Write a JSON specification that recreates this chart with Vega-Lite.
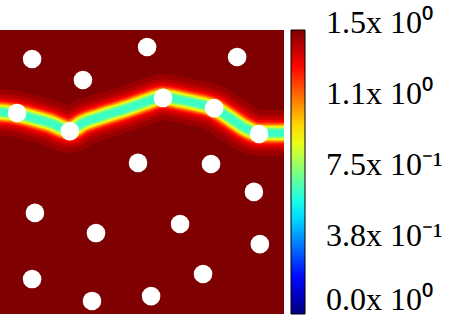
{
  "$schema": "https://vega.github.io/schema/vega-lite/v6.json",
  "autosize": "none",
  "width": 284,
  "height": 284,
  "padding": {"left": 0, "top": 30, "right": 165, "bottom": 4},
  "background": "white",
  "view": {"fill": "#7f0000", "stroke": null},
  "config": {"legend": {"padding": 0}},
  "datasets": {
    "band": [
      {"x": -0.04, "y": 0.713},
      {"x": 0.0, "y": 0.711},
      {"x": 0.06, "y": 0.704},
      {"x": 0.116, "y": 0.69},
      {"x": 0.176, "y": 0.673},
      {"x": 0.246, "y": 0.648},
      {"x": 0.292, "y": 0.673},
      {"x": 0.352, "y": 0.694},
      {"x": 0.451, "y": 0.725},
      {"x": 0.511, "y": 0.746},
      {"x": 0.574, "y": 0.764},
      {"x": 0.634, "y": 0.754},
      {"x": 0.687, "y": 0.743},
      {"x": 0.754, "y": 0.725},
      {"x": 0.81, "y": 0.69},
      {"x": 0.863, "y": 0.655},
      {"x": 0.912, "y": 0.637},
      {"x": 1.0, "y": 0.637},
      {"x": 1.04, "y": 0.637}
    ],
    "holes": [
      {"x": 0.113, "y": 0.898},
      {"x": 0.518, "y": 0.94},
      {"x": 0.835, "y": 0.905},
      {"x": 0.292, "y": 0.824},
      {"x": 0.06, "y": 0.708},
      {"x": 0.246, "y": 0.644},
      {"x": 0.574, "y": 0.761},
      {"x": 0.754, "y": 0.725},
      {"x": 0.912, "y": 0.634},
      {"x": 0.486, "y": 0.532},
      {"x": 0.743, "y": 0.528},
      {"x": 0.894, "y": 0.43},
      {"x": 0.123, "y": 0.356},
      {"x": 0.338, "y": 0.285},
      {"x": 0.634, "y": 0.317},
      {"x": 0.915, "y": 0.246},
      {"x": 0.113, "y": 0.123},
      {"x": 0.715, "y": 0.141},
      {"x": 0.324, "y": 0.046},
      {"x": 0.532, "y": 0.063}
    ]
  },
  "encoding": {
    "x": {"field": "x", "type": "quantitative", "axis": null, "scale": {"domain": [0, 1], "nice": false, "zero": false}},
    "y": {"field": "y", "type": "quantitative", "axis": null, "scale": {"domain": [0, 1], "nice": false, "zero": false}}
  },
  "layer": [
    {"data": {"name": "band"}, "mark": {"type": "line", "strokeWidth": 46, "interpolate": "monotone", "clip": true},
     "encoding": {"color": {"datum": 1.46, "type": "quantitative",
       "scale": {"domain": [0, 0.1875, 0.5625, 0.9375, 1.3125, 1.5], "range": ["#00007f", "#0000ff", "#00ffff", "#ffff00", "#ff0000", "#7f0000"], "interpolate": "rgb"},
       "legend": {"title": null, "orient": "right", "offset": 7, "direction": "vertical", "gradientLength": 284, "gradientThickness": 14,
         "gradientStrokeColor": "black", "gradientStrokeWidth": 1,
         "values": [0, 0.375, 0.75, 1.125, 1.5],
         "labelExpr": "datum.value < 0.1 ? '0.0x 10⁰' : datum.value < 0.5 ? '3.8x 10⁻¹' : datum.value < 1 ? '7.5x 10⁻¹' : datum.value < 1.3 ? '1.1x 10⁰' : '1.5x 10⁰'",
         "labelFont": "Liberation Serif", "labelFontSize": 32, "labelColor": "black", "labelOffset": 21, "labelOverlap": false,
         "labelBaseline": "alphabetic",
         "encode": {"labels": {"update": {"baseline": {"value": "alphabetic"}, "dy": {"signal": "datum.value < 0.1 ? -4 : 3"}}}}}}}},
    {"data": {"name": "band"}, "mark": {"type": "line", "strokeWidth": 36, "interpolate": "monotone", "clip": true}, "encoding": {"color": {"datum": 1.42, "type": "quantitative"}}},
    {"data": {"name": "band"}, "mark": {"type": "line", "strokeWidth": 30, "interpolate": "monotone", "clip": true}, "encoding": {"color": {"datum": 1.38, "type": "quantitative"}}},
    {"data": {"name": "band"}, "mark": {"type": "line", "strokeWidth": 26, "interpolate": "monotone", "clip": true}, "encoding": {"color": {"datum": 1.34, "type": "quantitative"}}},
    {"data": {"name": "band"}, "mark": {"type": "line", "strokeWidth": 23, "interpolate": "monotone", "clip": true}, "encoding": {"color": {"datum": 1.3, "type": "quantitative"}}},
    {"data": {"name": "band"}, "mark": {"type": "line", "strokeWidth": 21, "interpolate": "monotone", "clip": true}, "encoding": {"color": {"datum": 1.24, "type": "quantitative"}}},
    {"data": {"name": "band"}, "mark": {"type": "line", "strokeWidth": 19, "interpolate": "monotone", "clip": true}, "encoding": {"color": {"datum": 1.17, "type": "quantitative"}}},
    {"data": {"name": "band"}, "mark": {"type": "line", "strokeWidth": 17, "interpolate": "monotone", "clip": true}, "encoding": {"color": {"datum": 1.1, "type": "quantitative"}}},
    {"data": {"name": "band"}, "mark": {"type": "line", "strokeWidth": 15.5, "interpolate": "monotone", "clip": true}, "encoding": {"color": {"datum": 1.03, "type": "quantitative"}}},
    {"data": {"name": "band"}, "mark": {"type": "line", "strokeWidth": 14, "interpolate": "monotone", "clip": true}, "encoding": {"color": {"datum": 0.96, "type": "quantitative"}}},
    {"data": {"name": "band"}, "mark": {"type": "line", "strokeWidth": 12.5, "interpolate": "monotone", "clip": true}, "encoding": {"color": {"datum": 0.89, "type": "quantitative"}}},
    {"data": {"name": "band"}, "mark": {"type": "line", "strokeWidth": 11, "interpolate": "monotone", "clip": true}, "encoding": {"color": {"datum": 0.82, "type": "quantitative"}}},
    {"data": {"name": "band"}, "mark": {"type": "line", "strokeWidth": 9.5, "interpolate": "monotone", "clip": true}, "encoding": {"color": {"datum": 0.75, "type": "quantitative"}}},
    {"data": {"name": "band"}, "mark": {"type": "line", "strokeWidth": 8, "interpolate": "monotone", "clip": true}, "encoding": {"color": {"datum": 0.7, "type": "quantitative"}}},
    {"data": {"name": "band"}, "mark": {"type": "line", "strokeWidth": 6, "interpolate": "monotone", "clip": true}, "encoding": {"color": {"datum": 0.65, "type": "quantitative"}}},
    {"data": {"name": "holes"}, "mark": {"type": "point", "shape": "circle", "filled": true, "fill": "white", "stroke": null, "size": 346, "opacity": 1}}
  ]
}
